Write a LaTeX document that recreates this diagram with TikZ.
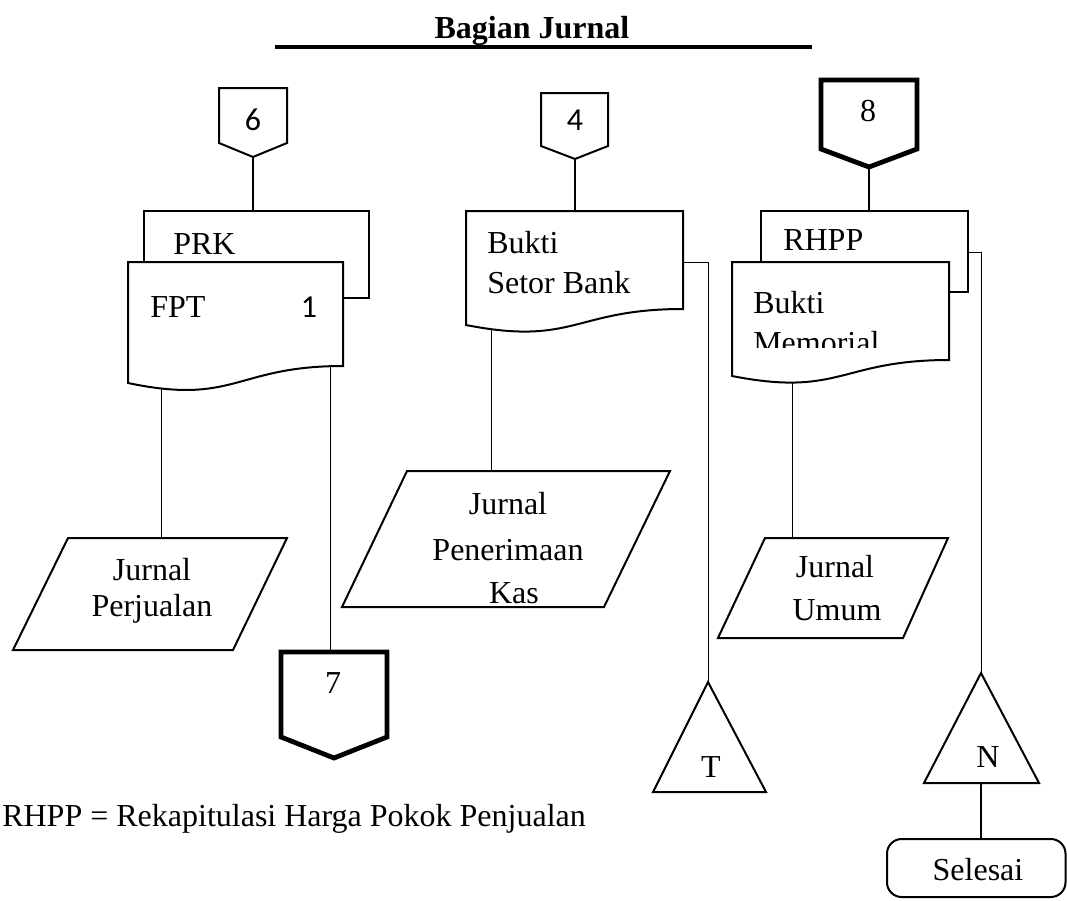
\documentclass[tikz,border=0pt]{standalone}
\usepackage{fontspec}
\setmainfont{Liberation Serif}
\newfontfamily\digitfont{Carlito}
\begin{document}
\begin{tikzpicture}[x=0.75pt,y=-0.75pt,
  txt/.style={inner sep=0pt,font=\fontsize{24}{28}\selectfont},
  outline/.style={draw=black,line width=1.5pt,fill=white,line join=miter},
  boldoutline/.style={draw=black,line width=3.6pt,fill=white,line join=miter},
  thinlink/.style={draw=black,line width=0.75pt},
  link/.style={draw=black,line width=1.5pt}]
\useasboundingbox[fill=white] (0,0) rectangle (1067,900);

% ---- connection points ----
\coordinate (c6)   at (253,157);  \coordinate (prkT) at (253,212);
\coordinate (c4)   at (575,159);  \coordinate (bsbT) at (575,212);
\coordinate (c8)   at (869,166);  \coordinate (rhT)  at (869,212);
\coordinate (fptL) at (161,380);  \coordinate (jpT)  at (161,540);
\coordinate (fptR) at (330,360);  \coordinate (c7)   at (330,652);
\coordinate (bsbL) at (491,318);  \coordinate (jkT)  at (491,472);
\coordinate (bsbR) at (682,262);  \coordinate (bsbK) at (708,262);
\coordinate (triT) at (708,682);
\coordinate (bmL)  at (792,370);  \coordinate (juT)  at (792,540);
\coordinate (rhR)  at (967,252);  \coordinate (rhK)  at (981,252);
\coordinate (triN) at (981,674);
\coordinate (triNb) at (981,782); \coordinate (selT) at (981,839);

% ---- connectors ----
\draw[link] (c6) -- (prkT);
\draw[link] (c4) -- (bsbT);
\draw[link] (c8) -- (rhT);
\draw[thinlink] (fptL) -- (jpT);
\draw[thinlink] (fptR) -- (c7);
\draw[thinlink] (bsbL) -- (jkT);
\draw[thinlink] (bsbR) -- (bsbK) -- (triT);
\draw[thinlink] (bmL) -- (juT);
\draw[thinlink] (rhR) -- (rhK) -- (triN);
\draw[link] (triNb) -- (selT);

% ---- title ----
\node[txt,anchor=base,font=\fontsize{24}{28}\selectfont\bfseries] (title) at (532,38) {Bagian Jurnal};
\draw[line width=3pt] (275,47) -- (812,47);

% ---- off-page connectors ----
\draw[outline] (219,88) -- (287,88) -- (287,143) -- (253,157) -- (219,143) -- cycle;
\draw[outline] (541,93) -- (608,93) -- (608,146) -- (575,159) -- (541,146) -- cycle;
\draw[boldoutline] (821,80) -- (917,80) -- (917,149) -- (869,167) -- (821,149) -- cycle;
\draw[boldoutline] (281,652) -- (387,652) -- (387,737) -- (334,758) -- (281,737) -- cycle;

% ---- documents ----
% PRK behind FPT
\draw[outline] (144,211) rectangle (369,298);
\draw[outline] (128,262) -- (343,262) -- (343,366)
  .. controls (235.5,366) and (235.5,405.6) .. (128,383) -- cycle;
% Bukti Setor Bank
\draw[outline] (466,211) -- (683,211) -- (683,309)
  .. controls (574.5,309) and (574.5,346.3) .. (466,325) -- cycle;
% RHPP behind Bukti Memorial
\draw[outline] (761,211) rectangle (968,292);
\draw[outline] (732,262) -- (949,262) -- (949,360)
  .. controls (840.5,360) and (840.5,397.3) .. (732,376) -- cycle;

% ---- journals (parallelograms) ----
\draw[outline] (68,538) -- (287,538) -- (233,650) -- (13,650) -- cycle;
\draw[outline] (407,471) -- (670,471) -- (604,607) -- (342,607) -- cycle;
\draw[outline] (765,538) -- (948,538) -- (903,638) -- (718,638) -- cycle;

% ---- terminators ----
\draw[outline] (708,682) -- (766,792) -- (653,792) -- cycle;
\draw[outline] (981,673) -- (1039,783) -- (924,783) -- cycle;
\draw[outline,rounded corners=11pt] (887,839) rectangle (1065.5,897);

% ---- labels ----
\node[txt,anchor=base] (n6) at (253,130) {\digitfont 6};
\node[txt,anchor=base] (n4) at (575,130) {\digitfont 4};
\node[txt,anchor=base] (n8) at (868,121) {8};
\node[txt,anchor=base] (n7) at (333,693) {7};

\node[txt,anchor=base west] (prk) at (173,254) {PRK};
\node[txt,anchor=base west] (fpt) at (150,317) {FPT};
\node[txt,anchor=base] (one) at (309,317) {\digitfont 1};

\node[txt,anchor=base west] (bsb1) at (487,253) {Bukti};
\node[txt,anchor=base west] (bsb2) at (487,293) {Setor Bank};

\node[txt,anchor=base west] (rhpp) at (783,250) {RHPP};
\node[txt,anchor=base west] (bm1) at (753,313) {Bukti};
\begin{scope}
  \clip (732,262) rectangle (949,347);
  \node[txt,anchor=base west] (bm2) at (753,353) {Memorial};
\end{scope}

\node[txt,anchor=base] (jp1) at (152,580) {Jurnal};
\node[txt,anchor=base] (jp2) at (152,616) {Perjualan};

\node[txt,anchor=base] (jk1) at (508,514) {Jurnal};
\node[txt,anchor=base] (jk2) at (508,560) {Penerimaan};
\node[txt,anchor=base] (jk3) at (514,603) {Kas};

\node[txt,anchor=base] (ju1) at (835,577) {Jurnal};
\node[txt,anchor=base] (ju2) at (837,620) {Umum};

\node[txt,anchor=base] (tT) at (711,777) {T};
\node[txt,anchor=base] (tN) at (988,767) {N};
\node[txt,anchor=base] (sel) at (978,880) {Selesai};

\node[txt,anchor=base west] (legend) at (2,826) {RHPP = Rekapitulasi Harga Pokok Penjualan};
\end{tikzpicture}
\end{document}
